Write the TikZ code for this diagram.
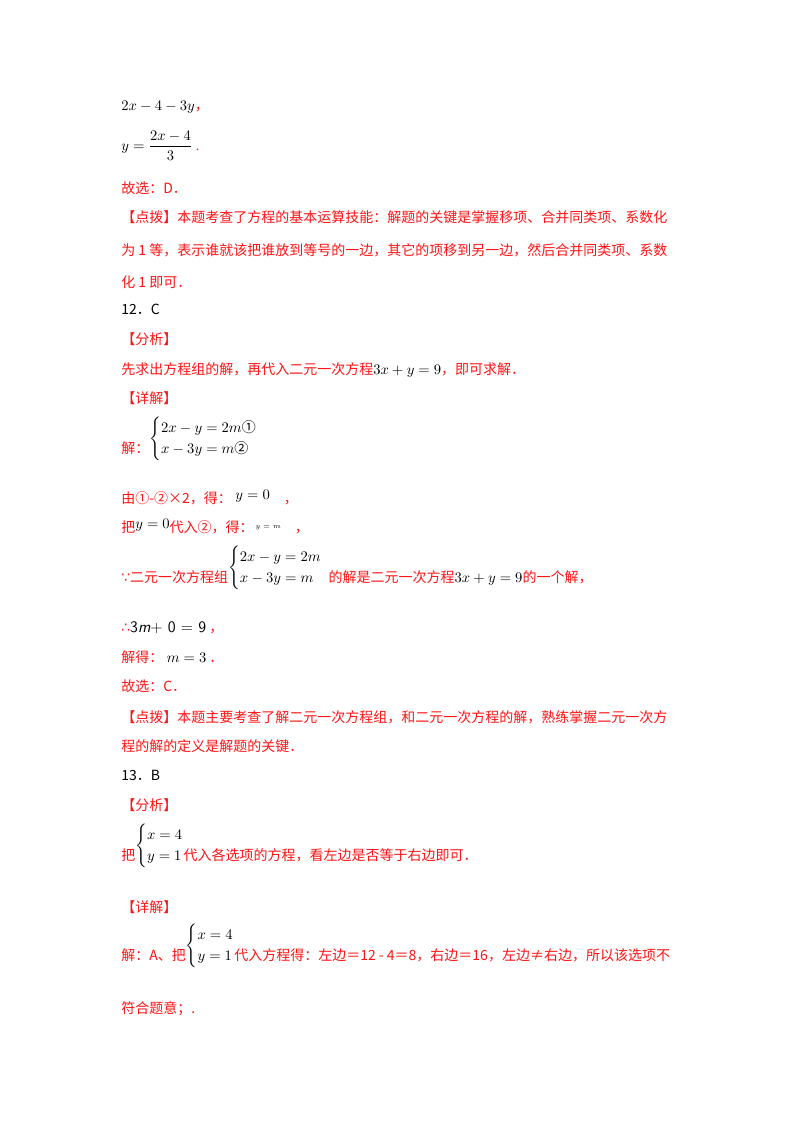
\documentclass[tikz,border=0pt]{standalone}
\usepackage{amsmath}
\usepackage{fontspec}
\setmainfont{Liberation Serif}
\newfontfamily\cjk{Noto Sans CJK SC}
\newfontfamily\sym{DejaVu Sans}
\definecolor{rd}{RGB}{255,20,20}
\newcommand{\sysup}[1]{\textcolor{black}{\rmfamily\raisebox{8pt}{$\renewcommand{\arraystretch}{1.35}\left\{\begin{array}{@{}l@{}}#1\end{array}\right.$}}}
\begin{document}
\begin{tikzpicture}[x=0.75pt,y=-0.75pt,
  t/.style={anchor=base west,inner sep=0pt,text=rd,font=\cjk\fontsize{10.5}{12}\selectfont},
  b/.style={anchor=base west,inner sep=0pt,text=black,font=\fontsize{10.5}{12}\selectfont}]
\fill[white] (0,0) rectangle (800,1132);
\node[b] (l1) at (121,110) {$2x-4-3y$\textcolor{rd}{\cjk ，}};
\node[b] (l2) at (121,150) {$y=\dfrac{2x-4}{3}$\textcolor{rd}{\ .}};
\node[t] (l3) at (121,193) {故选：D．};
\node[t] (l4) at (121,222) {【点拨】本题考查了方程的基本运算技能：解题的关键是掌握移项、合并同类项、系数化};
\node[t] (l5) at (121,255) {为 1 等，表示谁就该把谁放到等号的一边，其它的项移到另一边，然后合并同类项、系数};
\node[t] (l6) at (121,287) {化 1 即可．};
\node[t,text=black] (l7) at (121,314) {12．C};
\node[t] (l8) at (121,344) {【分析】};
\node[t] (l9) at (121,374) {先求出方程组的解，再代入二元一次方程\textcolor{black}{\rmfamily$3x+y=9$}，即可求解．};
\node[t] (l10) at (121,403) {【详解】};
\node[t] (l11) at (121,453) {解：\sysup{2x-y=2m\text{\cjk ①}\\ x-3y=m\text{\cjk ②}}};
\node[t] (l12) at (121,503) {由①-②×2，得：\textcolor{black}{\rmfamily\raisebox{3pt}{\ $y=0$}}\quad ，};
\node[t] (l13) at (121,532) {把\textcolor{black}{\rmfamily\raisebox{3pt}{$y=0$}}代入②，得：\textcolor{black}{\rmfamily\tiny\raisebox{3pt}{\ $y=m$}}\quad ，};
\node[t] (l14) at (121,582) {{\sym ∵}二元一次方程组\sysup{2x-y=2m\\ x-3y=m}\ \ 的解是二元一次方程\textcolor{black}{\rmfamily$3x+y=9$}的一个解，};
\node[t] (l15) at (121,632) {{\sym ∴}\textcolor{black}{\sffamily\fontsize{12}{14}\selectfont 3\textit{m}+ 0 = 9}\ ，};
\node[t] (l16) at (121,662) {解得：\textcolor{black}{\rmfamily\ $m=3$}\ ．};
\node[t] (l17) at (121,691) {故选：C．};
\node[t] (l18) at (121,722) {【点拨】本题主要考查了解二元一次方程组，和二元一次方程的解，熟练掌握二元一次方};
\node[t] (l19) at (121,751) {程的解的定义是解题的关键．};
\node[t,text=black] (l20) at (121,780) {13．B};
\node[t] (l21) at (121,810) {【分析】};
\node[t] (l22) at (121,860) {把\sysup{x=4\\ y=1}代入各选项的方程，看左边是否等于右边即可．};
\node[t] (l23) at (121,912) {【详解】};
\node[t] (l24) at (121,960) {解：A、把\sysup{x=4\\ y=1}代入方程得：左边＝12 - 4＝8，右边＝16，左边≠右边，所以该选项不};
\node[t] (l25) at (121,1013) {符合题意；.};
\end{tikzpicture}
\end{document}
